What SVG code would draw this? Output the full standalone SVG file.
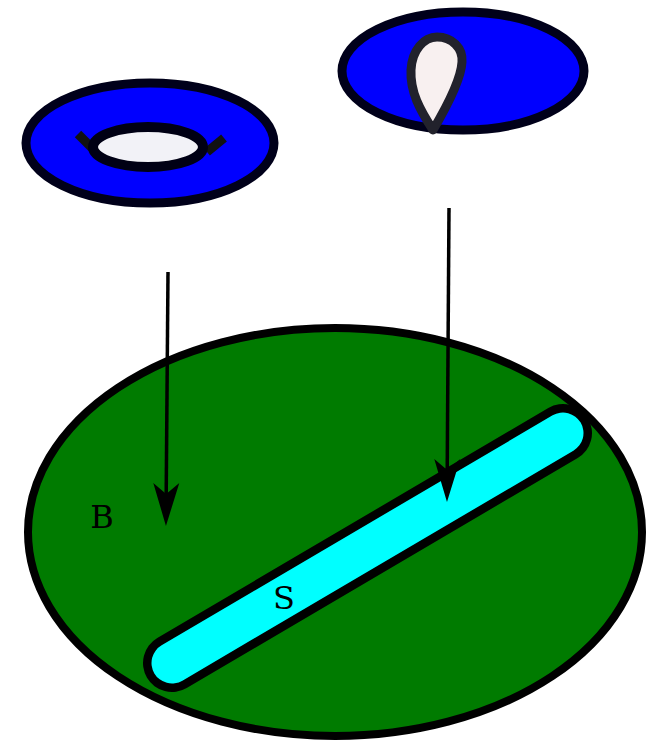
<svg xmlns="http://www.w3.org/2000/svg" width="662" height="742" viewBox="0 0 662 742">
<style>
.lbl{font-family:"DejaVu Serif",serif;font-size:32px;fill:#000;text-anchor:middle}
.disc{fill:#0000ff;stroke:#00001a;stroke-width:9}
.conn{stroke:#000;stroke-width:3.5;fill:none}
</style>
<defs>
<marker id="ah" markerUnits="userSpaceOnUse" viewBox="-1 -14 46 28" markerWidth="46" markerHeight="28" refX="11" refY="0" orient="auto">
<path d="M0,-13 L43,0 L0,13 L11,0 Z" fill="#000"/>
</marker>
</defs>
<rect width="662" height="742" fill="#fff"/>
<g id="B">
<ellipse cx="335" cy="532" rx="307" ry="204" fill="#007b00" stroke="#000" stroke-width="8"/>
<text class="lbl" x="102" y="528">B</text>
</g>
<g id="S">
<line x1="172" y1="663" x2="563" y2="433" stroke="#000" stroke-width="58" stroke-linecap="round"/>
<line x1="172" y1="663" x2="563" y2="433" stroke="#00ffff" stroke-width="41" stroke-linecap="round"/>
<text class="lbl" x="284" y="609">S</text>
</g>
<g id="disc1">
<ellipse class="disc" cx="150" cy="143" rx="124" ry="60"/>
<line x1="78" y1="134" x2="95" y2="151" stroke="#111" stroke-width="9"/>
<line x1="224" y1="138" x2="207" y2="152" stroke="#111" stroke-width="9"/>
<ellipse cx="148" cy="147" rx="55" ry="20" fill="#f2f2f7" stroke="#000014" stroke-width="10"/>
</g>
<g id="disc2">
<ellipse class="disc" cx="463" cy="71" rx="121" ry="59"/>
<path d="M433,130 C420,110 410,92 411,70 C412,50 424,37 437,37 C452,37 463,48 462,62 C461,80 446,108 433,130 Z" fill="#f8f0f0" stroke="#22222c" stroke-width="9" stroke-linejoin="round"/>
</g>
<g id="connectors">
<line class="conn" x1="168" y1="272" x2="166.2" y2="494" marker-end="url(#ah)"/>
<line class="conn" x1="449" y1="208" x2="447.2" y2="470" marker-end="url(#ah)"/>
</g>
</svg>
